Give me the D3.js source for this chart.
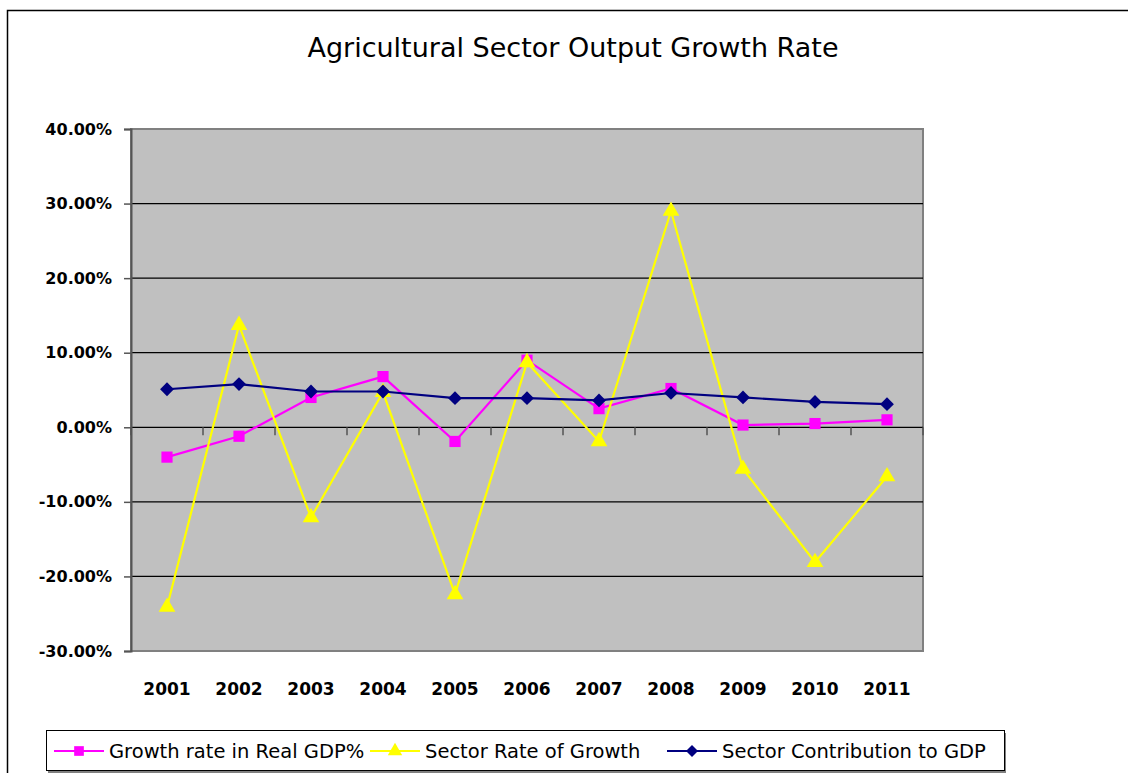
<!DOCTYPE html>
<html>
<head>
<meta charset="utf-8">
<script src="https://cdn.jsdelivr.net/npm/d3@7"></script>
<style>
  body { margin: 0; background: #fff; }
  svg { display: block; font-family: "DejaVu Sans", Verdana, sans-serif; }
</style>
</head>
<body>
<div id="chart"></div>
<script>
// data
const years = ["2001", "2002", "2003", "2004", "2005", "2006", "2007", "2008", "2009", "2010", "2011"]
const realGdp = [-0.040, -0.012, 0.040, 0.068, -0.019, 0.090, 0.025, 0.052, 0.003, 0.005, 0.010]
const sectorGrowth = [-0.241, 0.137, -0.121, 0.047, -0.224, 0.087, -0.019, 0.290, -0.056, -0.181, -0.066]
const sectorContribution = [0.051, 0.058, 0.048, 0.048, 0.039, 0.039, 0.036, 0.046, 0.040, 0.034, 0.031]
const yTicks = [-0.3, -0.2, -0.1, 0, 0.1, 0.2, 0.3, 0.4]

const diamond = {
	draw: function(ctx, size){
		var r = Math.sqrt(size) / 2 * Math.SQRT2;
		ctx.moveTo(0, -r); ctx.lineTo(r, 0); ctx.lineTo(0, r); ctx.lineTo(-r, 0); ctx.closePath();
	}
};

const series = [
	{ name: "Growth rate in Real GDP%", values: realGdp, color: "#FF00FF", symbol: d3.symbolSquare, size: 125 },
	{ name: "Sector Rate of Growth", values: sectorGrowth, color: "#FFFF00", symbol: d3.symbolTriangle, size: 120 },
	{ name: "Sector Contribution to GDP", values: sectorContribution, color: "#000080", symbol: diamond, size: 95 }
];

var width = 1128, height = 773;
var plot = { left: 131, right: 923, top: 129, bottom: 651 };

var svg = d3.select("#chart").append("svg")
	.attr("width", width)
	.attr("height", height);

// chart frame (runs off the picture on the right and bottom)
svg.append("rect")
	.attr("x", 7.5).attr("y", 10.5)
	.attr("width", 1200).attr("height", 900)
	.attr("fill", "none")
	.attr("stroke", "#000")
	.attr("stroke-width", 1.5);

svg.append("text")
	.attr("x", 573).attr("y", 57)
	.attr("text-anchor", "middle")
	.style("font-size", "27px")
	.text("Agricultural Sector Output Growth Rate");

var x = d3.scaleBand()
	.domain(years)
	.range([plot.left, plot.right]);

var y = d3.scaleLinear()
	.domain([-0.3, 0.4])
	.range([plot.bottom, plot.top]);

// plot area
svg.append("rect")
	.attr("x", plot.left).attr("y", plot.top)
	.attr("width", plot.right - plot.left)
	.attr("height", plot.bottom - plot.top)
	.attr("fill", "#C0C0C0")
	.attr("stroke", "#808080")
	.attr("stroke-width", 2);

svg.append("g")
	.selectAll("line")
	.data(yTicks.filter(function(d){ return d > -0.3 && d < 0.4; }))
	.join("line")
	.attr("x1", plot.left).attr("x2", plot.right)
	.attr("y1", function(d){ return y(d); })
	.attr("y2", function(d){ return y(d); })
	.attr("stroke", "#000")
	.attr("stroke-width", 1.2);

// y axis
var pct = d3.format(".2%");
var yAxis = svg.append("g")
	.attr("transform", "translate(" + plot.left + ",0)")
	.call(d3.axisLeft(y).tickValues(yTicks)
		.tickFormat(function(d){ return pct(d).replace("−", "-"); })
		.tickSize(7).tickPadding(12));
yAxis.attr("font-family", null).attr("font-size", null);
yAxis.select(".domain").attr("stroke", "#555").attr("stroke-width", 2);
yAxis.selectAll(".tick line").attr("stroke", "#555").attr("stroke-width", 1.5);
yAxis.selectAll("text")
	.style("font-size", "16px")
	.style("font-weight", "bold")
	.attr("fill", "#000");

// x axis on the zero line, ticks between categories
var boundaries = d3.range(years.length + 1).map(function(i){ return plot.left + x.step() * i; });
svg.append("g")
	.selectAll("line")
	.data(boundaries)
	.join("line")
	.attr("x1", function(d){ return d; }).attr("x2", function(d){ return d; })
	.attr("y1", y(0)).attr("y2", y(0) + 8)
	.attr("stroke", "#555")
	.attr("stroke-width", 1.5);

svg.append("g")
	.selectAll("text")
	.data(years)
	.join("text")
	.attr("x", function(d){ return x(d) + x.bandwidth() / 2; })
	.attr("y", 695)
	.attr("text-anchor", "middle")
	.style("font-size", "17px")
	.style("font-weight", "bold")
	.text(function(d){ return d; });

// lines and markers
var line = d3.line()
	.x(function(d, i){ return x(years[i]) + x.bandwidth() / 2; })
	.y(function(d){ return y(d); });

series.forEach(function(s){
	var g = svg.append("g");
	g.append("path")
		.datum(s.values)
		.attr("d", line)
		.attr("fill", "none")
		.attr("stroke", s.color)
		.attr("stroke-width", 2.2);
	g.selectAll("path.marker")
		.data(s.values)
		.join("path")
		.attr("class", "marker")
		.attr("d", d3.symbol().type(s.symbol).size(s.size))
		.attr("transform", function(d, i){
			return "translate(" + (x(years[i]) + x.bandwidth() / 2) + "," + y(d) + ")";
		})
		.attr("fill", s.color);
});

// legend
var legend = svg.append("g");
legend.append("rect")
	.attr("x", 48).attr("y", 733)
	.attr("width", 958).attr("height", 40)
	.attr("fill", "#808080");
legend.append("rect")
	.attr("x", 46.5).attr("y", 730.5)
	.attr("width", 958).attr("height", 40)
	.attr("fill", "#fff")
	.attr("stroke", "#000")
	.attr("stroke-width", 1);

var legendX = [54, 370, 667];
series.forEach(function(s, i){
	var lg = legend.append("g").attr("transform", "translate(" + legendX[i] + ",751)");
	lg.append("line")
		.attr("x1", 0).attr("x2", 50)
		.attr("stroke", s.color)
		.attr("stroke-width", 2);
	lg.append("path")
		.attr("d", d3.symbol().type(s.symbol).size(s.size * 0.75))
		.attr("transform", "translate(25,0)")
		.attr("fill", s.color);
	lg.append("text")
		.attr("x", 55).attr("dy", "0.35em")
		.style("font-size", "19.5px")
		.text(s.name);
});
</script>
</body>
</html>
